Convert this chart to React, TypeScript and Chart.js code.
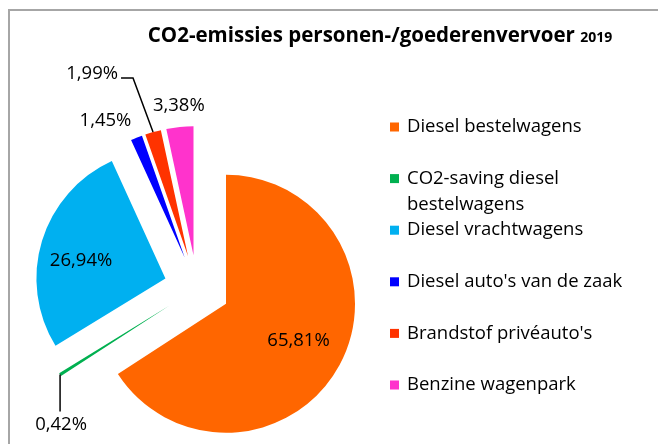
import React, { useEffect, useRef } from 'react';
import { Chart, registerables } from 'chart.js';

Chart.register(...registerables);

// ---------- data ----------
const categories = [
  'Diesel bestelwagens',
  'CO2-saving diesel bestelwagens',
  'Diesel vrachtwagens',
  "Diesel auto's van de zaak",
  "Brandstof privéauto's",
  'Benzine wagenpark',
];
const shares = [65.81, 0.42, 26.94, 1.45, 1.99, 3.38];
const sliceColors = ['#FF6600', '#00B050', '#00B0F0', '#0000FF', '#FF3300', '#FF33CC'];
const titleMain = 'CO2-emissies personen-/goederenvervoer';
const titleYear = '2019';

// ---------- layout / style ----------
const FONT = '"Open Sans", Lato, sans-serif';
const EXPLODE = 33;
const PIE_RADIUS = 129;
const LABEL_FONT = `18.5px ${FONT}`;
const LEGEND_FONT = `18.5px ${FONT}`;

type LabelPlace =
  | { kind: 'inside'; frac: number; angle: number }
  | { kind: 'below'; drop: number; gap: number }
  | { kind: 'offset'; dx: number; dy: number }
  | { kind: 'leader'; elbowDx: number; elbowDy: number; endDx: number };

const labelPlaces: LabelPlace[] = [
  { kind: 'inside', frac: 0.63, angle: 116.8 },
  { kind: 'below', drop: 37, gap: 13 },
  { kind: 'inside', frac: 0.668, angle: 281.7 },
  { kind: 'offset', dx: -31, dy: -17 },
  { kind: 'leader', elbowDx: -20, elbowDy: -54, endDx: -32 },
  { kind: 'offset', dx: -1, dy: -21 },
];

const fmt = (v: number) => v.toFixed(2).replace('.', ',') + '%';

const wrap = (ctx: CanvasRenderingContext2D, text: string, maxW: number) => {
  const words = text.split(' ');
  const lines: string[] = [];
  let cur = '';
  for (const w of words) {
    const t = cur ? cur + ' ' + w : w;
    if (ctx.measureText(t).width > maxW && cur) {
      lines.push(cur);
      cur = w;
    } else cur = t;
  }
  if (cur) lines.push(cur);
  return lines;
};

const explodePlugin = {
  id: 'explodeDraw',
  beforeDraw(chart: any) {
    const ctx = chart.ctx as CanvasRenderingContext2D;
    ctx.save();
    ctx.fillStyle = '#ffffff';
    ctx.fillRect(0, 0, chart.width, chart.height);
    ctx.strokeStyle = '#A6A6A6';
    ctx.lineWidth = 2;
    ctx.beginPath();
    ctx.moveTo(9, chart.height + 5);
    ctx.lineTo(9, 10);
    ctx.lineTo(chart.width + 5, 10);
    ctx.stroke();
    ctx.restore();
  },
  beforeDatasetDraw(chart: any, args: any) {
    const ctx = chart.ctx as CanvasRenderingContext2D;
    args.meta.data.forEach((arc: any) => {
      const mid = (arc.startAngle + arc.endAngle) / 2;
      ctx.save();
      ctx.translate(Math.cos(mid) * EXPLODE, Math.sin(mid) * EXPLODE);
      arc.draw(ctx);
      ctx.restore();
    });
    return false;
  },
  afterDraw(chart: any) {
    const ctx = chart.ctx as CanvasRenderingContext2D;
    const meta = chart.getDatasetMeta(0);
    ctx.save();

    // title
    ctx.fillStyle = '#000000';
    ctx.textBaseline = 'alphabetic';
    const fMain = `bold 20.5px ${FONT}`;
    const fYear = `bold 14px ${FONT}`;
    ctx.font = fMain;
    const wMain = ctx.measureText(titleMain + ' ').width;
    ctx.font = fYear;
    const wYear = ctx.measureText(titleYear).width;
    const tx = 380 - (wMain + wYear) / 2;
    ctx.font = fMain;
    ctx.textAlign = 'left';
    ctx.fillText(titleMain, tx, 42);
    ctx.font = fYear;
    ctx.fillText(titleYear, tx + wMain, 42);

    // data labels
    ctx.font = LABEL_FONT;
    ctx.textBaseline = 'middle';
    ctx.textAlign = 'center';
    ctx.strokeStyle = '#000000';
    ctx.lineWidth = 1.5;
    meta.data.forEach((arc: any, i: number) => {
      const mid = (arc.startAngle + arc.endAngle) / 2;
      const ax = arc.x + Math.cos(mid) * EXPLODE;
      const ay = arc.y + Math.sin(mid) * EXPLODE;
      const r = arc.outerRadius;
      const tipX = ax + Math.cos(mid) * r;
      const tipY = ay + Math.sin(mid) * r;
      const text = fmt(shares[i]);
      const p = labelPlaces[i];
      if (p.kind === 'inside') {
        const a = ((p.angle - 90) * Math.PI) / 180;
        ctx.fillText(text, ax + Math.cos(a) * r * p.frac, ay + Math.sin(a) * r * p.frac);
      } else if (p.kind === 'below') {
        ctx.beginPath();
        ctx.moveTo(tipX, tipY);
        ctx.lineTo(tipX, tipY + p.drop);
        ctx.stroke();
        ctx.fillText(text, tipX + 1, tipY + p.drop + p.gap);
      } else if (p.kind === 'offset') {
        ctx.fillText(text, tipX + p.dx, tipY + p.dy);
      } else {
        const ex = tipX + p.elbowDx;
        const ey = tipY + p.elbowDy;
        ctx.beginPath();
        ctx.moveTo(tipX, tipY);
        ctx.lineTo(ex, ey);
        ctx.lineTo(tipX + p.endDx, ey);
        ctx.stroke();
        ctx.textAlign = 'right';
        ctx.fillText(text, tipX + p.endDx - 3, ey - 4);
        ctx.textAlign = 'center';
      }
    });

    // legend
    ctx.font = LEGEND_FONT;
    ctx.textAlign = 'left';
    ctx.textBaseline = 'middle';
    categories.forEach((c, i) => {
      const yc = 127 + i * 51.6;
      ctx.fillStyle = sliceColors[i];
      ctx.fillRect(390, yc - 4.5, 9, 9);
      ctx.fillStyle = '#000000';
      const lines = wrap(ctx, c, 235);
      lines.forEach((ln, k) => ctx.fillText(ln, 407, yc + k * 26.5));
    });

    ctx.restore();
  },
};

export default function App() {
  const ref = useRef<HTMLCanvasElement | null>(null);
  useEffect(() => {
    if (!ref.current) return;
    const chart = new Chart(ref.current, {
      type: 'pie',
      data: {
        labels: categories,
        datasets: [
          {
            data: shares,
            backgroundColor: sliceColors,
            borderWidth: 0,
            radius: PIE_RADIUS,
            clip: false,
          } as any,
        ],
      },
      options: {
        responsive: false,
        maintainAspectRatio: false,
        animation: false,
        events: [],
        layout: { padding: { left: 0, right: 264, top: 132, bottom: 0 } },
        plugins: {
          legend: { display: false },
          title: { display: false },
          tooltip: { enabled: false },
        },
      } as any,
      plugins: [explodePlugin],
    });
    return () => chart.destroy();
  }, []);
  return (
    <div style={{ position: 'fixed', left: 0, top: 0, width: 658, height: 444 }}>
      <canvas ref={ref} width={658} height={444} style={{ width: 658, height: 444, display: 'block' }} />
    </div>
  );
}
